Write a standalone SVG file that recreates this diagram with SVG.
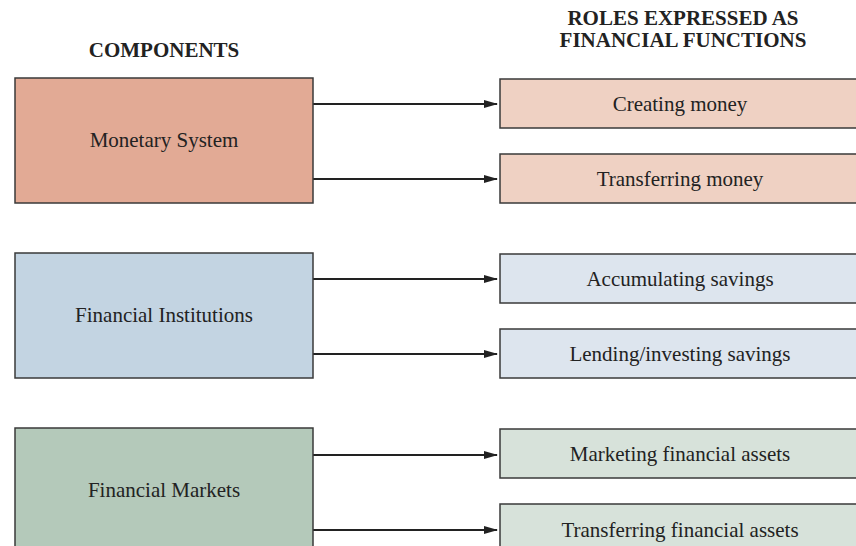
<svg xmlns="http://www.w3.org/2000/svg" width="856" height="546" viewBox="0 0 856 546">
<defs>
<style>
.box{stroke:#3a3a3a;stroke-width:1.5}
.t{font-family:"Liberation Serif","Times New Roman",serif;font-size:21px;fill:#222;text-anchor:middle}
.h{font-family:"Liberation Serif","Times New Roman",serif;font-size:21px;font-weight:bold;fill:#222;text-anchor:middle}
.c{stroke:#222;stroke-width:2.2;fill:none}
</style>
<marker id="ah" markerWidth="14" markerHeight="8" refX="13" refY="4" orient="auto" markerUnits="userSpaceOnUse">
<path d="M0,0 L14,4 L0,8 Z" fill="#222"/>
</marker>
</defs>
<rect width="856" height="546" fill="#fff"/>
<g id="headers">
<text class="h" x="164" y="57">COMPONENTS</text>
<text class="h" x="683" y="25">ROLES EXPRESSED AS</text>
<text class="h" x="683" y="47">FINANCIAL FUNCTIONS</text>
</g>
<g id="connectors">
<line class="c" x1="313" y1="104" x2="497" y2="104" marker-end="url(#ah)"/>
<line class="c" x1="313" y1="179" x2="497" y2="179" marker-end="url(#ah)"/>
<line class="c" x1="313" y1="279" x2="497" y2="279" marker-end="url(#ah)"/>
<line class="c" x1="313" y1="354" x2="497" y2="354" marker-end="url(#ah)"/>
<line class="c" x1="313" y1="455" x2="497" y2="455" marker-end="url(#ah)"/>
<line class="c" x1="313" y1="530" x2="497" y2="530" marker-end="url(#ah)"/>
</g>
<g id="monetary">
<rect class="box" x="15" y="78" width="298" height="125" fill="#e2aa95"/>
<text class="t" x="164" y="147">Monetary System</text>
</g>
<g id="creating">
<rect class="box" x="500" y="79" width="360" height="49" fill="#efd1c3"/>
<text class="t" x="680" y="111">Creating money</text>
</g>
<g id="transferring">
<rect class="box" x="500" y="154" width="360" height="49" fill="#efd1c3"/>
<text class="t" x="680" y="186">Transferring money</text>
</g>
<g id="institutions">
<rect class="box" x="15" y="253" width="298" height="125" fill="#c3d4e2"/>
<text class="t" x="164" y="322">Financial Institutions</text>
</g>
<g id="accumulating">
<rect class="box" x="500" y="254" width="360" height="49" fill="#dde5ee"/>
<text class="t" x="680" y="286">Accumulating savings</text>
</g>
<g id="lending">
<rect class="box" x="500" y="329" width="360" height="49" fill="#dde5ee"/>
<text class="t" x="680" y="361">Lending/investing savings</text>
</g>
<g id="markets">
<rect class="box" x="15" y="428" width="298" height="130" fill="#b4c9ba"/>
<text class="t" x="164" y="497">Financial Markets</text>
</g>
<g id="marketing">
<rect class="box" x="500" y="429" width="360" height="49" fill="#d7e2da"/>
<text class="t" x="680" y="461">Marketing financial assets</text>
</g>
<g id="transferring-assets">
<rect class="box" x="500" y="504" width="360" height="60" fill="#d7e2da"/>
<text class="t" x="680" y="537">Transferring financial assets</text>
</g>
</svg>
